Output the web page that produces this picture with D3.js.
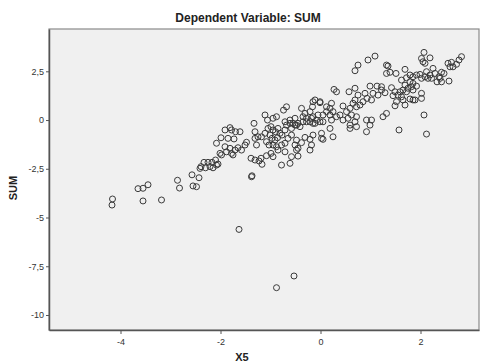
<!DOCTYPE html>
<html>
<head>
<meta charset="utf-8">
<script src="https://cdn.jsdelivr.net/npm/d3@7"></script>
<style>
  body { margin: 0; background: #fff; }
  svg { font-family: "Liberation Sans", Arial, sans-serif; }
</style>
</head>
<body>
<svg id="svg1" width="483" height="364"></svg>
<script>
// partial regression plot
var xVals = [-4.16,-4.17,-3.65,-3.55,-3.45,-3.55,-3.18,-2.86,-2.82,-2.57,-2.55,-2.48,-2.43,-2.39,-2.33,-2.25,-2.17,-2.10,-2.30,-2.21,
  -2.15,-2.08,-1.98,-2.08,-1.99,-1.91,-1.81,-1.78,-1.70,-1.61,-1.85,-1.73,-1.88,-1.78,-1.71,-1.65,-1.58,-1.51,-1.48,-1.91,
  -1.81,-1.39,-1.31,-1.23,-1.17,-1.19,-1.08,-0.99,-0.95,-1.38,-1.37,-1.33,-1.31,-1.25,-1.28,-1.11,-1.06,-0.95,-0.88,-0.74,
  -0.68,-1.05,-0.99,-0.95,-0.90,-0.85,-0.81,-0.77,-0.71,-1.01,-0.97,-0.91,-0.86,-1.11,-1.08,-1.03,-0.95,-0.88,-0.78,-0.71,
  -0.65,-0.58,-0.68,-0.61,-0.51,-0.45,-0.71,-0.61,-0.51,-0.78,-0.61,-0.58,-0.71,-1.63,-0.53,-0.88,-2.01,-1.75,-2.05,-2.41,
  -0.38,-0.31,-0.35,-0.21,-0.18,-0.28,-0.15,-0.08,-0.01,-0.15,-0.01,1.09,0.95,0.75,0.69,1.32,1.32,0.27,0.32,0.57,
  0.69,0.75,0.99,1.13,1.22,1.05,1.15,1.29,0.89,0.93,0.85,1.02,-0.11,-0.01,-0.16,0.65,0.72,0.79,0.59,0.52,
  0.45,0.19,0.25,0.19,0.12,0.32,0.22,0.05,0.05,-0.05,-0.15,-0.28,-0.21,-0.11,-0.35,-0.48,-0.41,-0.55,-0.58,0.39,
  0.45,0.55,0.62,0.72,0.69,0.59,0.72,0.92,1.02,0.99,1.25,1.32,0.92,0.59,0.19,0.25,0.02,0.02,0.05,-0.15,
  -0.21,-0.31,-0.38,-0.48,-0.51,-0.48,-0.45,-0.18,-0.21,-0.45,2.07,2.02,2.09,2.19,2.05,2.82,2.77,2.72,2.62,2.55,
  2.59,2.65,1.39,1.51,1.69,2.12,2.25,2.29,2.42,2.39,2.33,2.57,1.62,1.72,1.79,1.85,1.92,1.99,2.02,2.09,
  2.15,2.19,2.22,1.79,1.85,1.82,1.92,1.75,1.85,1.69,1.42,1.49,1.59,1.65,1.72,1.55,1.62,1.45,1.52,1.65,
  1.69,1.79,1.85,2.02,2.02,1.89,1.22,1.49,2.07,1.57,2.12,2.47,2.37,2.42,1.35,0.12,0.22,0.69,-1.31,-1.18,
  -0.85];
var yVals = [-4.05,-4.36,-3.52,-3.50,-3.32,-4.15,-4.10,-3.09,-3.49,-2.81,-3.38,-3.42,-2.96,-2.39,-2.17,-2.17,-2.17,-2.05,-2.45,-2.39,
  -2.45,-2.31,-1.79,-1.19,-0.91,-0.51,-0.39,-0.51,-0.60,-0.60,-0.94,-0.97,-1.63,-1.71,-1.54,-1.42,-1.54,-1.28,-1.14,-1.37,
  -1.45,-1.96,-2.05,-2.10,-2.27,-1.96,-1.83,-1.71,-1.88,-2.91,-2.86,-0.17,-0.94,-0.86,-1.28,0.26,0.00,0.09,0.17,0.51,
  0.68,-0.43,-0.34,-0.51,-0.60,-0.43,-0.68,-0.77,-0.51,-0.77,-0.94,-1.03,-0.91,-0.68,-1.11,-1.28,-1.28,-1.37,-1.28,-1.19,
  -0.94,-0.77,-0.26,-0.17,-0.26,-0.17,-0.09,0.00,0.09,-2.31,-2.22,-1.88,-1.63,-5.61,-8.00,-8.60,-1.71,-1.79,-2.26,-2.48,
  0.60,0.34,0.17,0.43,0.09,-0.09,-0.17,0.00,-0.09,0.94,0.94,3.28,3.08,2.82,2.53,2.82,2.39,1.57,1.45,1.45,
  1.63,1.28,1.74,1.74,1.54,1.37,1.28,1.40,1.37,1.11,0.94,1.03,1.03,0.89,0.68,0.86,0.68,0.77,0.60,0.43,
  0.72,0.60,0.43,0.26,0.43,0.17,0.00,0.26,-0.09,0.26,0.17,0.09,-0.09,-0.17,-0.09,-0.26,-0.34,-0.17,-0.43,0.26,
  0.00,0.09,0.26,0.17,-0.09,-0.26,-0.34,0.00,0.00,-0.26,0.17,0.34,-0.60,-0.43,-0.43,-0.86,-0.68,-0.94,-0.99,-0.77,
  -0.99,-0.89,-1.16,-1.03,-1.28,-1.54,-1.45,-1.28,-1.54,-1.85,3.47,3.16,2.91,3.19,2.99,3.25,3.08,2.86,2.96,2.91,
  2.73,2.73,2.45,2.39,2.60,2.48,2.65,2.39,2.45,2.14,1.96,2.00,2.05,2.17,2.31,2.22,2.31,2.34,2.14,2.22,
  2.14,2.31,2.14,1.96,1.88,1.71,1.74,1.63,1.54,1.79,1.66,1.45,1.45,1.54,1.45,1.28,1.19,1.25,0.94,1.03,
  0.77,1.08,1.03,1.37,1.11,1.03,1.71,0.73,0.26,-0.51,-0.72,2.39,2.22,1.96,2.77,0.68,0.86,1.03,-0.60,-0.86,
  -1.54];

var xTicks = [-4, -2, 0, 2];
var yTicks = [2.5, 0, -2.5, -5, -7.5, -10];

var titleText = "Dependent Variable: SUM";
var xLabel = "X5";
var yLabel = "SUM";

var points = xVals.map(function (d, i) { return { x: d, y: yVals[i] }; });

var plotLeft = 49, plotTop = 29, plotRight = 479, plotBottom = 330;

var svg = d3.select('#svg1');

var x = d3.scaleLinear().domain([-5.43, 3.17]).range([plotLeft, plotRight]);
var y = d3.scaleLinear().domain([-10.77, 4.67]).range([plotBottom, plotTop]);

var fmt = function (v) { return String(v).replace('.', ','); };

// plot background
svg.append('rect')
    .attr('x', plotLeft)
    .attr('y', plotTop)
    .attr('width', plotRight - plotLeft)
    .attr('height', plotBottom - plotTop)
    .attr('fill', '#f0f0f0')
    .attr('stroke', '#8a8a8a')
    .attr('stroke-width', 1.2);

var xAxis = svg.append('g')
    .attr('transform', 'translate(0,' + plotBottom + ')')
    .call(d3.axisBottom(x).tickValues(xTicks).tickFormat(fmt).tickSize(4).tickSizeOuter(0));

var yAxis = svg.append('g')
    .attr('transform', 'translate(' + plotLeft + ',0)')
    .call(d3.axisLeft(y).tickValues(yTicks).tickFormat(fmt).tickSize(3).tickSizeOuter(0));

[xAxis, yAxis].forEach(function (ax) {
    ax.select('.domain').attr('stroke', '#555').attr('stroke-width', 1.5);
    ax.selectAll('.tick line').attr('stroke', '#555');
    ax.selectAll('.tick text')
        .attr('fill', '#333')
        .style('font-size', '9px')
        .style('font-family', '"Liberation Sans", Arial, sans-serif');
});
xAxis.selectAll('.tick text').attr('dy', '0.9em');
yAxis.selectAll('.tick text').attr('x', -5);

// points
svg.append('g')
    .selectAll('circle')
    .data(points)
    .enter()
    .append('circle')
    .attr('cx', function (d) { return x(d.x); })
    .attr('cy', function (d) { return y(d.y); })
    .attr('r', 3)
    .attr('fill', 'none')
    .attr('stroke', '#3a3a3a')
    .attr('stroke-width', 1);

svg.append('text')
    .attr('x', 248)
    .attr('y', 22)
    .attr('text-anchor', 'middle')
    .attr('font-weight', 'bold')
    .attr('font-size', 12)
    .attr('fill', '#222')
    .text(titleText);

svg.append('text')
    .attr('x', 242)
    .attr('y', 361)
    .attr('text-anchor', 'middle')
    .attr('font-weight', 'bold')
    .attr('font-size', 11)
    .attr('fill', '#222')
    .text(xLabel);

svg.append('text')
    .attr('transform', 'translate(17,188) rotate(-90)')
    .attr('text-anchor', 'middle')
    .attr('font-weight', 'bold')
    .attr('font-size', 11)
    .attr('fill', '#222')
    .text(yLabel);
</script>
</body>
</html>
